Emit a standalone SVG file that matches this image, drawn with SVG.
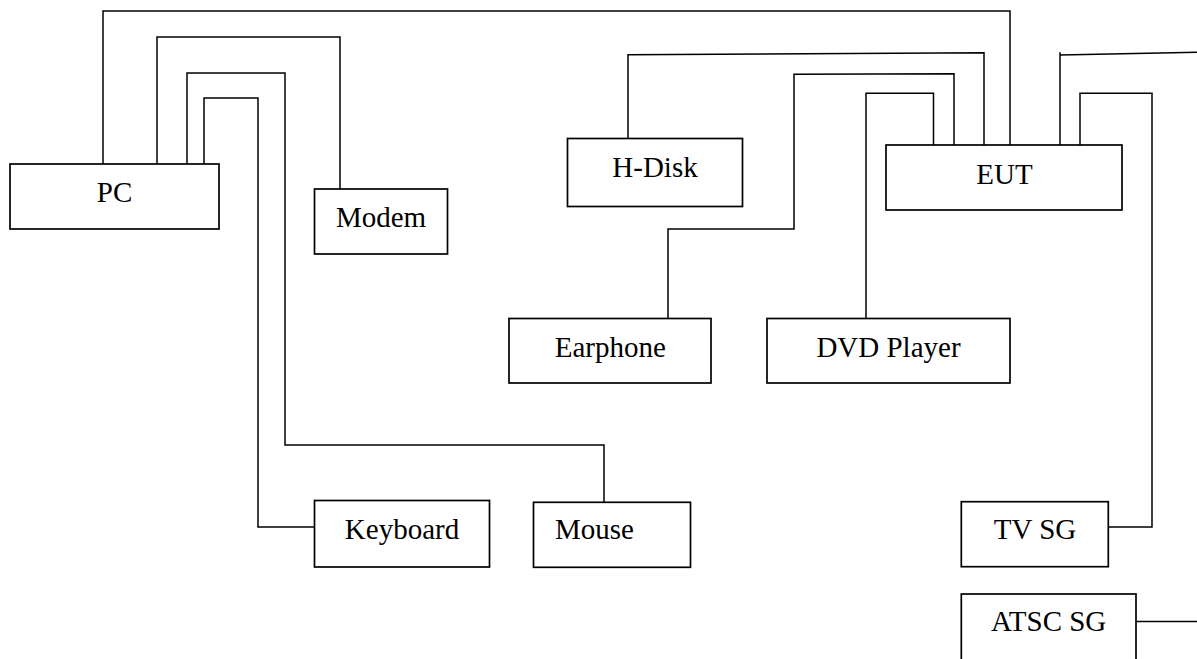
<svg xmlns="http://www.w3.org/2000/svg" width="1197" height="659" viewBox="0 0 1197 659">
<style>
.box{fill:#fff;stroke:#000;stroke-width:1.7}
.ln{fill:none;stroke:#000;stroke-width:1.5}
.t{font-family:"Liberation Serif","Times New Roman",serif;font-size:29px;fill:#000;text-anchor:middle}
</style>
<rect width="1197" height="659" fill="#fff"/>
<g id="connectors">
<polyline class="ln" points="103,164 103,11 1010,11 1010,145"/>
<polyline class="ln" points="157,164 157,37 340,37 340,189"/>
<polyline class="ln" points="187,164 187,73 285,73 285,445 604,445 604,502"/>
<polyline class="ln" points="204,164 204,98 258,98 258,527 314,527"/>
<polyline class="ln" points="628,138 628,54.7 984,52.7 984,145"/>
<polyline class="ln" points="668,318 668,229 794,229 794,74.3 954,73.7 954,145"/>
<polyline class="ln" points="866,318 866,93.3 933.5,93.3 933.5,145"/>
<polyline class="ln" points="1060,147 1060,52.3"/>
<line class="ln" x1="1060" y1="55" x2="1197" y2="52.3"/>
<polyline class="ln" points="1080,145 1080,93.3 1152,93.3 1152,527 1108,527"/>
<line class="ln" x1="1136" y1="621.5" x2="1197" y2="621.5"/>
</g>
<g id="pc"><rect class="box" x="10" y="164" width="209" height="65"/><text class="t" x="114.5" y="202">PC</text></g>
<g id="modem"><rect class="box" x="314.5" y="189" width="133" height="65"/><text class="t" x="381" y="226.5">Modem</text></g>
<g id="hdisk"><rect class="box" x="567.5" y="138.5" width="175" height="68"/><text class="t" x="655" y="176.5">H-Disk</text></g>
<g id="eut"><rect class="box" x="886" y="145" width="236" height="65"/><text class="t" x="1004.5" y="183.5">EUT</text></g>
<g id="earphone"><rect class="box" x="509" y="318.5" width="202" height="64.5"/><text class="t" x="610.3" y="356.7">Earphone</text></g>
<g id="dvd"><rect class="box" x="767" y="318.5" width="243" height="64.5"/><text class="t" x="888.5" y="356.7">DVD Player</text></g>
<g id="keyboard"><rect class="box" x="314.5" y="500.5" width="175" height="66.5"/><text class="t" x="402" y="539">Keyboard</text></g>
<g id="mouse"><rect class="box" x="533.5" y="502.3" width="157" height="65"/><text class="t" x="555" y="539" style="text-anchor:start">Mouse</text></g>
<g id="tvsg"><rect class="box" x="961.3" y="501.7" width="147" height="65"/><text class="t" x="1035" y="539.3">TV SG</text></g>
<g id="atscsg"><rect class="box" x="961.3" y="594" width="174.7" height="80"/><text class="t" x="1048.7" y="630.7">ATSC SG</text></g>
</svg>
